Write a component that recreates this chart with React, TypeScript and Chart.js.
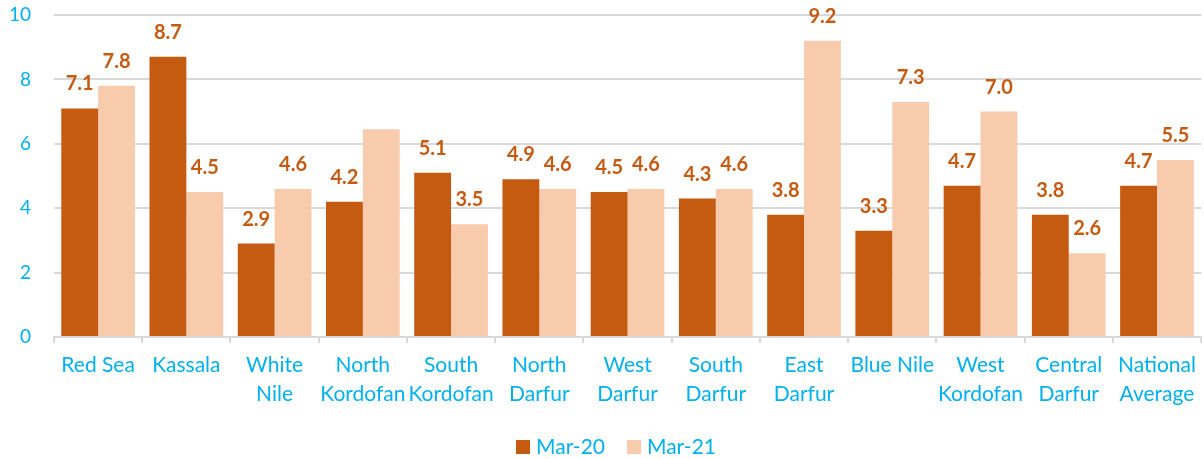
import React, { useEffect, useRef } from "react";
import { Chart, registerables } from "chart.js";

Chart.register(...registerables);

const categories: string[][] = [
  ["Red Sea"],
  ["Kassala"],
  ["White", "Nile"],
  ["North", "Kordofan"],
  ["South", "Kordofan"],
  ["North", "Darfur"],
  ["West", "Darfur"],
  ["South", "Darfur"],
  ["East", "Darfur"],
  ["Blue Nile"],
  ["West", "Kordofan"],
  ["Central", "Darfur"],
  ["National", "Average"],
];

const mar20: number[] = [7.1, 8.7, 2.9, 4.2, 5.1, 4.9, 4.5, 4.3, 3.8, 3.3, 4.7, 3.8, 4.7];
const mar21: number[] = [7.8, 4.5, 4.6, 6.45, 3.5, 4.6, 4.6, 4.6, 9.2, 7.3, 7.0, 2.6, 5.5];

const mar20Labels: (string | null)[] = ["7.1", "8.7", "2.9", "4.2", "5.1", "4.9", "4.5", "4.3", "3.8", "3.3", "4.7", "3.8", "4.7"];
const mar21Labels: (string | null)[] = ["7.8", "4.5", "4.6", null, "3.5", "4.6", "4.6", "4.6", "9.2", "7.3", "7.0", "2.6", "5.5"];

const seriesNames: string[] = ["Mar-20", "Mar-21"];
const yTicks: number[] = [0, 2, 4, 6, 8, 10];

const FONT = "Lato, 'Open Sans', sans-serif";
const BLUE = "#00B0F0";
const DARK = "#C55A11";
const LIGHT = "#F8CBAD";

const labelPlugin = {
  id: "barLabels",
  afterDatasetsDraw(chart: any) {
    const ctx = chart.ctx;
    const sets = [mar20Labels, mar21Labels];
    ctx.save();
    ctx.fillStyle = DARK;
    ctx.font = `bold 20px ${FONT}`;
    ctx.textAlign = "center";
    ctx.textBaseline = "alphabetic";
    sets.forEach((labels, di) => {
      const meta = chart.getDatasetMeta(di);
      meta.data.forEach((bar: any, i: number) => {
        const t = labels[i];
        if (!t) return;
        ctx.fillText(t, bar.x, bar.y - 18);
      });
    });
    ctx.restore();
  },
};

const legendPlugin = {
  id: "customLegend",
  afterDraw(chart: any) {
    const ctx = chart.ctx;
    const colors = chart.data.datasets.map((d: any) => d.backgroundColor);
    ctx.save();
    ctx.font = `21px ${FONT}`;
    const box = 14;
    const gap = 6;
    const itemGap = 22;
    const widths = seriesNames.map((n) => ctx.measureText(n).width);
    const total = widths.reduce((a, w) => a + box + gap + w, 0) + itemGap * (seriesNames.length - 1);
    const centerX = 616;
    const cy = 447;
    let x = centerX - total / 2;
    seriesNames.forEach((n, i) => {
      ctx.fillStyle = colors[i];
      ctx.fillRect(x, cy - box / 2, box, box);
      x += box + gap;
      ctx.fillStyle = BLUE;
      ctx.textAlign = "left";
      ctx.textBaseline = "middle";
      ctx.fillText(n, x, cy);
      x += widths[i] + itemGap;
    });
    ctx.restore();
  },
};

export default function App() {
  const ref = useRef<HTMLCanvasElement | null>(null);
  useEffect(() => {
    if (!ref.current) return;
    const chart = new Chart(ref.current, {
      type: "bar",
      data: {
        labels: categories as any,
        datasets: [
          { label: seriesNames[0], data: mar20, backgroundColor: DARK, borderWidth: 0 },
          { label: seriesNames[1], data: mar21, backgroundColor: LIGHT, borderWidth: 0 },
        ],
      },
      options: {
        animation: false,
        responsive: false,
        layout: { autoPadding: false, padding: { top: 15, left: 0, right: 1, bottom: 42 } },
        datasets: { bar: { categoryPercentage: 0.835, barPercentage: 1 } },
        plugins: {
          legend: { display: false },
          tooltip: { enabled: false },
        },
        scales: {
          x: {
            grid: { display: true, drawOnChartArea: false, color: "#D9D9D9", tickLength: 6, lineWidth: 2 },
            border: { display: true, color: "#D9D9D9", width: 2 },
            ticks: {
              color: BLUE,
              font: { family: FONT, size: 21, lineHeight: 1.38 },
              maxRotation: 0,
              minRotation: 0,
              autoSkip: false,
              padding: 8,
            },
            afterFit(scale: any) {
              scale.height = 80;
            },
          },
          y: {
            min: 0,
            max: 10,
            afterBuildTicks(scale: any) {
              scale.ticks = yTicks.map((v) => ({ value: v }));
            },
            grid: { color: "#D9D9D9", lineWidth: 2, drawTicks: true, tickLength: 20, tickColor: "rgba(0,0,0,0)" },
            border: { display: false },
            ticks: {
              color: BLUE,
              font: { family: FONT, size: 19 },
              padding: 3,
            },
            afterFit(scale: any) {
              scale.width = 54;
            },
          },
        },
      },
      plugins: [labelPlugin, legendPlugin],
    });
    return () => chart.destroy();
  }, []);
  return (
    <div style={{ position: "fixed", left: 0, top: 0, width: 1204, height: 459, background: "#fff" }}>
      <canvas ref={ref} width={1204} height={459} style={{ width: 1204, height: 459 }} />
    </div>
  );
}
